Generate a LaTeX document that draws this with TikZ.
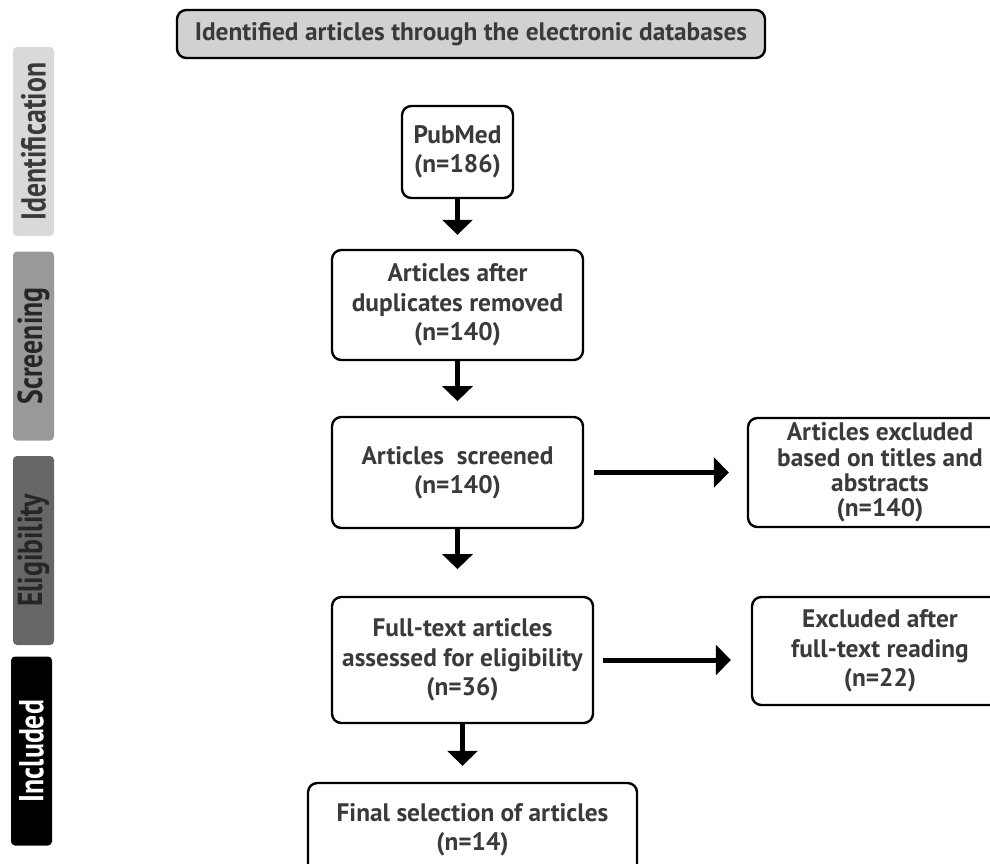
\documentclass[tikz,border=0pt]{standalone}
\usepackage{fontspec}
\setmainfont{PT Sans}
\newfontfamily\barfont{PT Sans}[FakeStretch=0.8]
\usetikzlibrary{arrows.meta}
\definecolor{txtgray}{HTML}{3A3A3A}
\definecolor{topfill}{HTML}{D2D1D2}
\tikzset{
  box/.style={draw, line width=1.8pt, rounded corners=7pt, align=center, inner sep=0pt,
    text=txtgray, font=\bfseries\fontsize{19}{22}\selectfont},
  phase/.style={rotate=90, rounded corners=3pt, inner sep=0pt, minimum width=141.75pt,
    minimum height=30.75pt, font=\barfont\bfseries\fontsize{26}{26}\selectfont},
  arr/.style={line width=3.75pt, -{Triangle[width=22.5pt,length=11.25pt]}}
}
\begin{document}
\begin{tikzpicture}[x=0.75pt,y=-0.75pt]
  \useasboundingbox (0,0) rectangle (990,864);
  \clip (0,0) rectangle (990,864);
  % phases
  \node[phase, fill=black!15, text=txtgray] (ident) at (33.5,141.5) {Identification};
  \node[phase, fill=black!40, text=black!85] (screen) at (33.5,346) {Screening};
  \node[phase, fill=black!60, text=black!85] (elig) at (33.5,550.5) {Eligibility};
  \node[phase, fill=black, text=white] (incl) at (31.5,751) {Included};
  % boxes
  \node[box, fill=topfill, minimum width=441pt, minimum height=36pt] (top) at (471,34) {Identified articles through the electronic databases};
  \node[box, minimum width=83.25pt, minimum height=69pt] (pubmed) at (457.5,152) {PubMed\\(n=186)};
  \node[box, minimum width=188.25pt, minimum height=82.5pt] (dup) at (457.5,305) {Articles after\\duplicates removed\\(n=140)};
  \node[box, minimum width=188.25pt, minimum height=83.25pt] (screened) at (457.5,472.5) {Articles~~screened\\(n=140)};
  \node[box, minimum width=195.75pt, minimum height=94.5pt] (full) at (462.5,660) {Full-text articles\\assessed for eligibility\\(n=36)};
  \node[box, minimum width=246.75pt, minimum height=70.5pt] (final) at (472.5,830) {Final selection of articles\\(n=14)};
  \node[box, minimum width=198pt, minimum height=81.75pt, font=\bfseries\fontsize{19}{19}\selectfont] (excl1) at (880,472.5) {Articles excluded\\based on titles and\\abstracts\\(n=140)};
  \node[box, minimum width=192pt, minimum height=81pt] (excl2) at (880,651) {Excluded after\\full-text reading\\(n=22)};
  % arrows
  \draw[arr, shorten >=10.5pt] (pubmed) -- (dup);
  \draw[arr, shorten >=11pt] (dup) -- (screened);
  \draw[arr, shorten >=20pt] (screened.south) -- (screened.south |- full.north);
  \draw[arr, shorten >=12pt] (full.south) -- (full.south |- final.north);
  \draw[arr, shorten <=7.5pt, shorten >=13.5pt] (screened) -- (excl1);
  \draw[arr, shorten <=6.75pt, shorten >=15pt] (full.east) -- (full.east -| excl2.west);
\end{tikzpicture}
\end{document}
